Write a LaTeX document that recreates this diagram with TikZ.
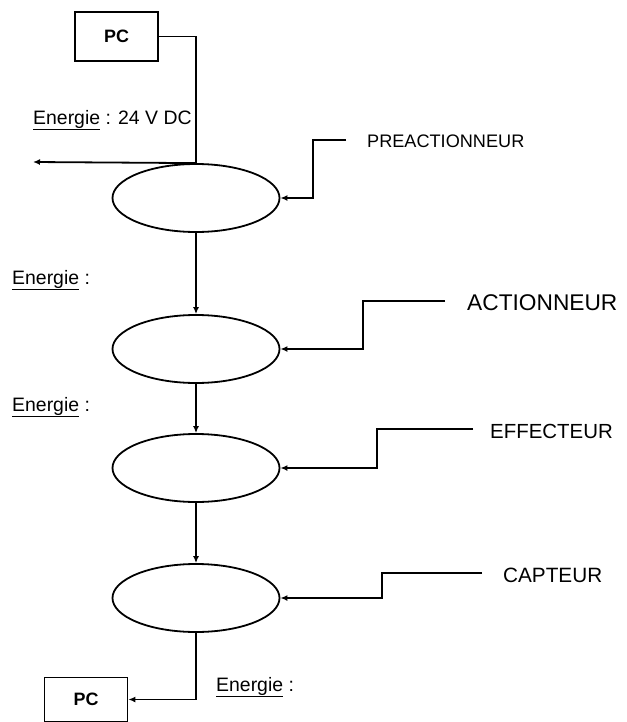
\documentclass[tikz,border=0pt]{standalone}
\usepackage{fontspec}
\setmainfont{Liberation Sans}
\usetikzlibrary{shapes.geometric,arrows.meta}
\begin{document}
\begin{tikzpicture}[x=1bp,y=-1bp,
  ln/.style={line width=1.8bp},
  arr/.style={ln,-{Latex[length=7bp,width=6bp]}},
  varr/.style={line width=2.4bp,-{Latex[length=7bp,width=6bp]}},
  pcbox/.style={draw,line width=1.8bp,minimum width=83bp,minimum height=49bp,inner sep=0pt,font=\fontsize{18}{20}\selectfont\bfseries},
  ell/.style={draw,ellipse,line width=1.8bp,minimum width=167bp,minimum height=68bp,inner sep=0pt},
  lbl/.style={anchor=west,inner sep=0pt},
  en/.style={anchor=west,inner sep=0pt,font=\fontsize{19.5}{22}\selectfont}]
\useasboundingbox (0,0) rectangle (627,722);
% boxes and ellipses
\node[pcbox] (pc1) at (116.5,36.5) {PC};
\node[ell] (e1) at (196,198) {};
\node[ell] (e2) at (196,349) {};
\node[ell] (e3) at (196,468) {};
\node[ell] (e4) at (196,598) {};
\node[pcbox,minimum height=44bp] (pc2) at (86,699.5) {PC};
% labels
\node[en] (t0) at (33,120) {\underline{Energie} : 24 V DC};
\node[en] (t1) at (12,280) {\underline{Energie} :};
\node[en] (t2) at (12,407) {\underline{Energie} :};
\node[en] (t3) at (216,687) {\underline{Energie} :};
\node[lbl,font=\fontsize{18.2}{20}\selectfont] (l1) at (367,141) {PREACTIONNEUR};
\node[lbl,font=\fontsize{22.8}{24}\selectfont] (l2) at (467,303) {ACTIONNEUR};
\node[lbl,font=\fontsize{20.5}{24}\selectfont] (l3) at (490,431) {EFFECTEUR};
\node[lbl,font=\fontsize{20.8}{24}\selectfont] (l4) at (503,575) {CAPTEUR};
% coordinates
\coordinate (left0) at (33,162);
\coordinate (p1) at (346,140);
\coordinate (p2) at (445,301);
\coordinate (p3) at (473,429);
\coordinate (p4) at (482,573);
% connectors
\draw[ln] (pc1.east) -| (e1.north);
\draw[arr] (e1.north) -- (left0);
\draw[varr] (e1.south) -- (e2.north);
\draw[varr] (e2.south) -- (e3.north);
\draw[varr] (e3.south) -- (e4.north);
\draw[arr] (e4.south) |- (pc2.east);
\draw[arr] (p1) -- ++(-33,0) |- (e1.east);
\draw[arr] (p2) -- ++(-82,0) |- (e2.east);
\draw[arr] (p3) -- ++(-96,0) |- (e3.east);
\draw[arr] (p4) -- ++(-100,0) |- (e4.east);
\end{tikzpicture}
\end{document}
